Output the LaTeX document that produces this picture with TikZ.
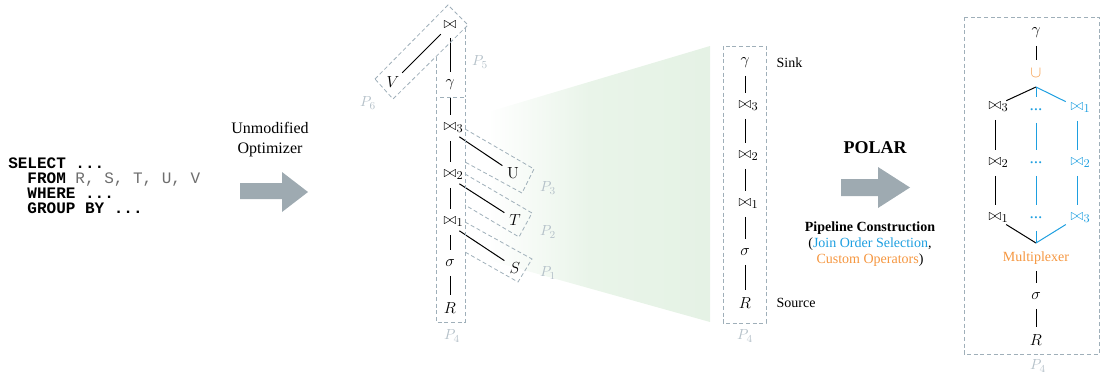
\documentclass[tikz,border=0pt]{standalone}
\usepackage[no-math]{fontspec}
\setmainfont{Liberation Serif}
\setmonofont{Liberation Mono}
\usetikzlibrary{calc}

\definecolor{boxgray}{HTML}{9FAFB9}
\definecolor{labelgray}{HTML}{B5C1C9}
\definecolor{arrowgray}{HTML}{9EAAB1}
\definecolor{sqlgray}{HTML}{6E6E6E}
\definecolor{joinblue}{HTML}{1E9FE0}
\definecolor{custorange}{HTML}{F5963F}
\definecolor{palegreen}{HTML}{E5F2E5}

\pgfdeclarehorizontalshading{fanshade}{100bp}{color(0bp)=(white); color(25bp)=(white);
  color(48bp)=(palegreen!85); color(75bp)=(palegreen); color(100bp)=(palegreen)}

\newcommand{\jn}[1]{$\mathord{\bowtie}\rlap{$_{#1}$}$}

\begin{document}
\begin{tikzpicture}[x=0.75pt,y=-0.75pt,
  op/.style={circle,inner sep=0pt,minimum size=16pt,font=\fontsize{13}{15}\selectfont},
  link/.style={line width=0.75pt,shorten <=1.5pt,shorten >=1.5pt},
  part/.style={draw=boxgray,line width=0.6pt,dash pattern=on 3pt off 2pt},
  plabel/.style={text=labelgray,font=\fontsize{11}{13}\selectfont},
  side/.style={anchor=west,font=\fontsize{10.5}{12}\selectfont}]
  \useasboundingbox (0,0) rectangle (1101,375);

  % query
  \node[anchor=north west,inner sep=0pt,align=left,font=\ttfamily\bfseries\fontsize{12}{11.25}\selectfont] (sql) at (8,158)
    {SELECT ...\\\hphantom{XX}FROM \textcolor{sqlgray}{\mdseries R, S, T, U, V}\\\hphantom{XX}WHERE ...\\\hphantom{XX}GROUP BY ...};

  \node[align=center,font=\fontsize{12}{15}\selectfont] (optim) at (270,140) {Unmodified\\Optimizer};
  \fill[arrowgray] (240,183) -- (282,183) -- (282,172) -- (308,192) -- (282,212) -- (282,199) -- (240,199) -- cycle;

  % fan-out to the pipeline
  \shade[shading=fanshade] (488,112) -- (710,46) -- (710,322) -- (488,260) -- cycle;

  % join tree
  \node[op] (top) at (450,25) {$\bowtie$};
  \node[op] (v) at (393,82) {$V$};
  \node[op] (g) at (450,85) {$\gamma$};
  \node[op] (j3) at (450,128) {\jn{3}};
  \node[op] (u) at (513,173) {$\mathrm{U}$};
  \node[op] (j2) at (450,175) {\jn{2}};
  \node[op] (t) at (515,220) {$T$};
  \node[op] (j1) at (450,222) {\jn{1}};
  \node[op] (s) at (515,268) {$S$};
  \node[op] (sel) at (450,263) {$\sigma$};
  \node[op] (r) at (450,308) {$R$};
  \draw[link] (v.45) -- (top.225);
  \draw[link] (top) -- (g);
  \draw[link] (g) -- (j3);
  \draw[link] (j3) -- (j2);
  \draw[link] (j2) -- (j1);
  \draw[link] (j1) -- (sel);
  \draw[link] (sel) -- (r);
  \draw[link] (j3.-45) -- (u.145);
  \draw[link] (j2.-45) -- (t.145);
  \draw[link] (j1.-45) -- (s.145);

  \draw[part] (375,79) -- (448,5) -- (468,25) -- (393,99) -- cycle;
  \draw[part] (436,57) -- (436,97);
  \draw[part] (465,28) -- (465,97);
  \draw[part] (436,97) rectangle (465,322);
  \draw[part] (465,129) -- (534,169) -- (522,193) -- (465,162);
  \draw[part] (465,174) -- (532,213) -- (519,237) -- (465,205);
  \draw[part] (465,222) -- (532,259) -- (518,282) -- (465,252);
  \node[plabel] at (368,103) {$P_6$};
  \node[plabel] at (480,62) {$P_5$};
  \node[plabel] at (548,188) {$P_3$};
  \node[plabel] at (548,232) {$P_2$};
  \node[plabel] at (548,273) {$P_1$};
  \node[plabel] at (452,336) {$P_4$};

  % pipeline P4
  \draw[part] (723,46) rectangle (766,323);
  \node[op] (mg) at (745,63) {$\gamma$};
  \node[op] (mj3) at (745,106) {\jn{3}};
  \node[op] (mj2) at (745,156) {\jn{2}};
  \node[op] (mj1) at (745,204) {\jn{1}};
  \node[op] (msel) at (745,252) {$\sigma$};
  \node[op] (mr) at (745,303) {$R$};
  \draw[link] (mg) -- (mj3);
  \draw[link] (mj3) -- (mj2);
  \draw[link] (mj2) -- (mj1);
  \draw[link] (mj1) -- (msel);
  \draw[link] (msel) -- (mr);
  \node[side] (sink) at (772,63) {Sink};
  \node[side] (source) at (772,303) {Source};
  \node[plabel] at (745,336) {$P_4$};

  \node[font=\bfseries\fontsize{13.5}{16}\selectfont] (polar) at (875,148) {POLAR};
  \fill[arrowgray] (841,179) -- (878,179) -- (878,167) -- (910,187.5) -- (878,208) -- (878,196) -- (841,196) -- cycle;
  \node[align=center,font=\fontsize{10.5}{12}\selectfont] (build) at (870,244)
    {\textbf{Pipeline Construction}\\(\textcolor{joinblue}{Join Order Selection},\\\textcolor{custorange}{Custom Operators})};

  % POLAR pipeline
  \draw[part] (964,17) rectangle (1099,354);
  \node[op] (pg) at (1036,33) {$\gamma$};
  \node[op,text=custorange] (cup) at (1036,73) {$\cup$};
  \coordinate (fork) at (1036,87);
  \node[op] (a3) at (995,107) {\jn{3}};
  \node[op] (a2) at (995,163) {\jn{2}};
  \node[op] (a1) at (995,218) {\jn{1}};
  \node[op,text=joinblue] (d1) at (1036,110) {...};
  \node[op,text=joinblue] (d2) at (1036,163) {...};
  \node[op,text=joinblue] (d3) at (1036,218) {...};
  \node[op,text=joinblue] (b1) at (1077,108) {\jn{1}};
  \node[op,text=joinblue] (b2) at (1077,163) {\jn{2}};
  \node[op,text=joinblue] (b3) at (1077,218) {\jn{3}};
  \coordinate (merge) at (1036,243);
  \node[text=custorange,font=\fontsize{10.5}{12}\selectfont] (mux) at (1036,258) {Multiplexer};
  \node[op] (ps) at (1036,296) {$\sigma$};
  \node[op] (pr) at (1036,340) {$R$};
  \draw[link] (pg) -- (cup);
  \draw[link,shorten >=0pt] (a3.30) -- (fork);
  \draw[link,joinblue,shorten <=0pt] (fork) -- (b1.150);
  \draw[link,joinblue,shorten <=0pt] (fork) -- (d1);
  \draw[link] (a3) -- (a2);
  \draw[link] (a2) -- (a1);
  \draw[link,joinblue] (d1) -- (d2);
  \draw[link,joinblue] (d2) -- (d3);
  \draw[link,joinblue] (b1) -- (b2);
  \draw[link,joinblue] (b2) -- (b3);
  \draw[link,shorten >=0pt] (a1.-30) -- (merge);
  \draw[link,joinblue,shorten >=0pt] (b3.210) -- (merge);
  \draw[link,joinblue,shorten >=0pt] (d3) -- (merge);
  \draw[link] (mux) -- (ps);
  \draw[link] (ps) -- (pr);
  \node[plabel] at (1038,366) {$P_4$};
\end{tikzpicture}
\end{document}
